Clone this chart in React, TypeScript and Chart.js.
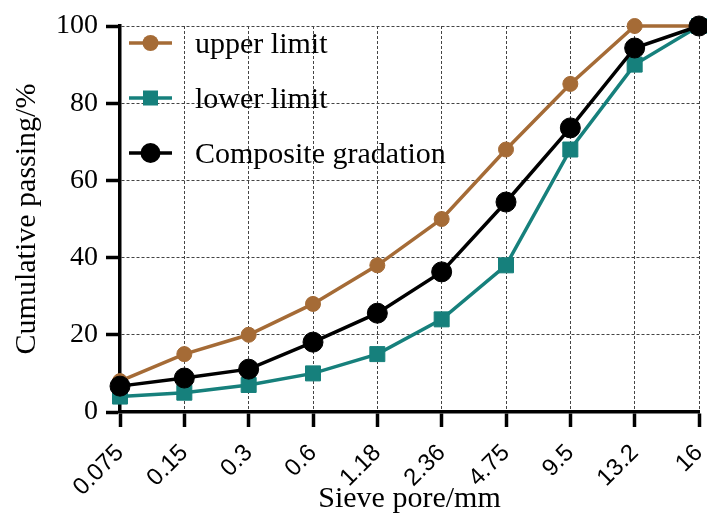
import React, { useEffect, useRef } from "react";
import { Chart, registerables } from "chart.js";

Chart.register(...registerables);

const sieveSizes = ["0.075", "0.15", "0.3", "0.6", "1.18", "2.36", "4.75", "9.5", "13.2", "16"];
const upperLimit = [8, 15, 20, 28, 38, 50, 68, 85, 100, 100];
const lowerLimit = [4, 5, 7, 10, 15, 24, 38, 68, 90, 100];
const compositeGradation = [6.7, 8.8, 11.1, 18.1, 25.6, 36.3, 54.4, 73.6, 94.3, 100];
const yTickValues = [0, 20, 40, 60, 80, 100];

const BROWN = "#A56B36";
const TEAL = "#16807C";
const BLACK = "#000000";
const SERIF = "'Liberation Serif', 'Times New Roman', serif";
const SANS = "'Liberation Sans', Arial, sans-serif";

const legendPlugin = {
  id: "insideLegend",
  afterDatasetsDraw(chart: any) {
    const ctx = chart.ctx;
    const area = chart.chartArea;
    const items = [
      { label: "upper limit", color: BROWN, style: "circle", r: 8 },
      { label: "lower limit", color: TEAL, style: "rect", r: 7.5 },
      { label: "Composite gradation", color: BLACK, style: "circle", r: 10 },
    ];
    const x0 = area.left + 9;
    const x1 = x0 + 43;
    const mx = (x0 + x1) / 2;
    items.forEach((it, i) => {
      const y = area.top + 17 + i * 55;
      ctx.save();
      ctx.strokeStyle = it.color;
      ctx.fillStyle = it.color;
      ctx.lineWidth = 3.5;
      ctx.beginPath();
      ctx.moveTo(x0, y);
      ctx.lineTo(x1, y);
      ctx.stroke();
      ctx.beginPath();
      if (it.style === "circle") {
        ctx.arc(mx, y, it.r, 0, Math.PI * 2);
        ctx.fill();
      } else {
        ctx.fillRect(mx - it.r, y - it.r, it.r * 2, it.r * 2);
      }
      ctx.fillStyle = "#000";
      ctx.font = `30px ${SERIF}`;
      ctx.textAlign = "left";
      ctx.textBaseline = "alphabetic";
      ctx.fillText(it.label, area.left + 75, y + 10);
      ctx.restore();
    });
  },
};

export default function App() {
  const canvasRef = useRef<HTMLCanvasElement | null>(null);

  useEffect(() => {
    document.body.style.margin = "0";
    const canvas = canvasRef.current;
    if (!canvas) return;
    const chart = new Chart(canvas, {
      type: "line",
      data: {
        labels: sieveSizes,
        datasets: [
          {
            label: "upper limit",
            data: upperLimit,
            borderColor: BROWN,
            backgroundColor: BROWN,
            borderWidth: 3.5,
            pointStyle: "circle",
            pointRadius: 7.5,
            pointBorderWidth: 1,
            pointBackgroundColor: BROWN,
            pointBorderColor: BROWN,
            tension: 0,
            clip: false,
            order: 1,
          },
          {
            label: "lower limit",
            data: lowerLimit,
            borderColor: TEAL,
            backgroundColor: TEAL,
            borderWidth: 3.5,
            pointStyle: "rect",
            pointRadius: 10.6,
            pointBorderWidth: 1,
            pointBackgroundColor: TEAL,
            pointBorderColor: TEAL,
            tension: 0,
            clip: false,
            order: 2,
          },
          {
            label: "Composite gradation",
            data: compositeGradation,
            borderColor: BLACK,
            backgroundColor: BLACK,
            borderWidth: 3.5,
            pointStyle: "circle",
            pointRadius: 10,
            pointBorderWidth: 1,
            pointBackgroundColor: BLACK,
            pointBorderColor: BLACK,
            tension: 0,
            clip: false,
            order: 0,
          },
        ],
      },
      options: {
        responsive: false,
        animation: false,
        layout: { autoPadding: false, padding: { left: 0, right: 8, top: 26, bottom: 0 } },
        plugins: {
          legend: { display: false },
          tooltip: { enabled: false },
        },
        scales: {
          x: {
            type: "category",
            offset: false,
            grid: {
              color: "#444",
              lineWidth: 1,
              drawTicks: true,
              tickLength: 15,
              tickWidth: 3.5,
              tickColor: "#000",
            },
            border: { display: true, color: "#000", width: 3.5, dash: [3, 2] },
            ticks: {
              color: "#000",
              font: { family: SANS, size: 24 },
              minRotation: 45,
              maxRotation: 45,
              autoSkip: false,
              padding: 12,
            },
            title: {
              display: true,
              text: "Sieve pore/mm",
              color: "#000",
              font: { family: SERIF, size: 30, lineHeight: 1 },
              padding: { top: 0, bottom: 1 },
            },
            afterFit(scale: any) {
              scale.height = 103;
              scale.paddingLeft = 0;
              scale.paddingRight = 0;
            },
          },
          y: {
            min: 0,
            max: 100,
            afterBuildTicks(scale: any) {
              scale.ticks = yTickValues.map((v) => ({ value: v }));
            },
            grid: {
              color: "#444",
              lineWidth: 1,
              drawTicks: true,
              tickLength: 14,
              tickWidth: 3.5,
              tickColor: "#000",
            },
            border: { display: true, color: "#000", width: 3.5, dash: [3, 2] },
            ticks: {
              color: "#000",
              font: { family: SERIF, size: 28 },
              padding: 8,
            },
            title: {
              display: true,
              text: "Cumulative passing/%",
              color: "#000",
              font: { family: SERIF, size: 30, lineHeight: 1 },
              padding: { top: 12, bottom: 0 },
            },
            afterFit(scale: any) {
              scale.width = 120;
              scale.paddingTop = 0;
              scale.paddingBottom = 0;
            },
          },
        },
      },
      plugins: [legendPlugin],
    } as any);
    return () => chart.destroy();
  }, []);

  return (
    <div style={{ position: "absolute", left: 0, top: 0, width: 707, height: 515 }}>
      <canvas ref={canvasRef} width={707} height={515} style={{ display: "block" }} />
    </div>
  );
}
